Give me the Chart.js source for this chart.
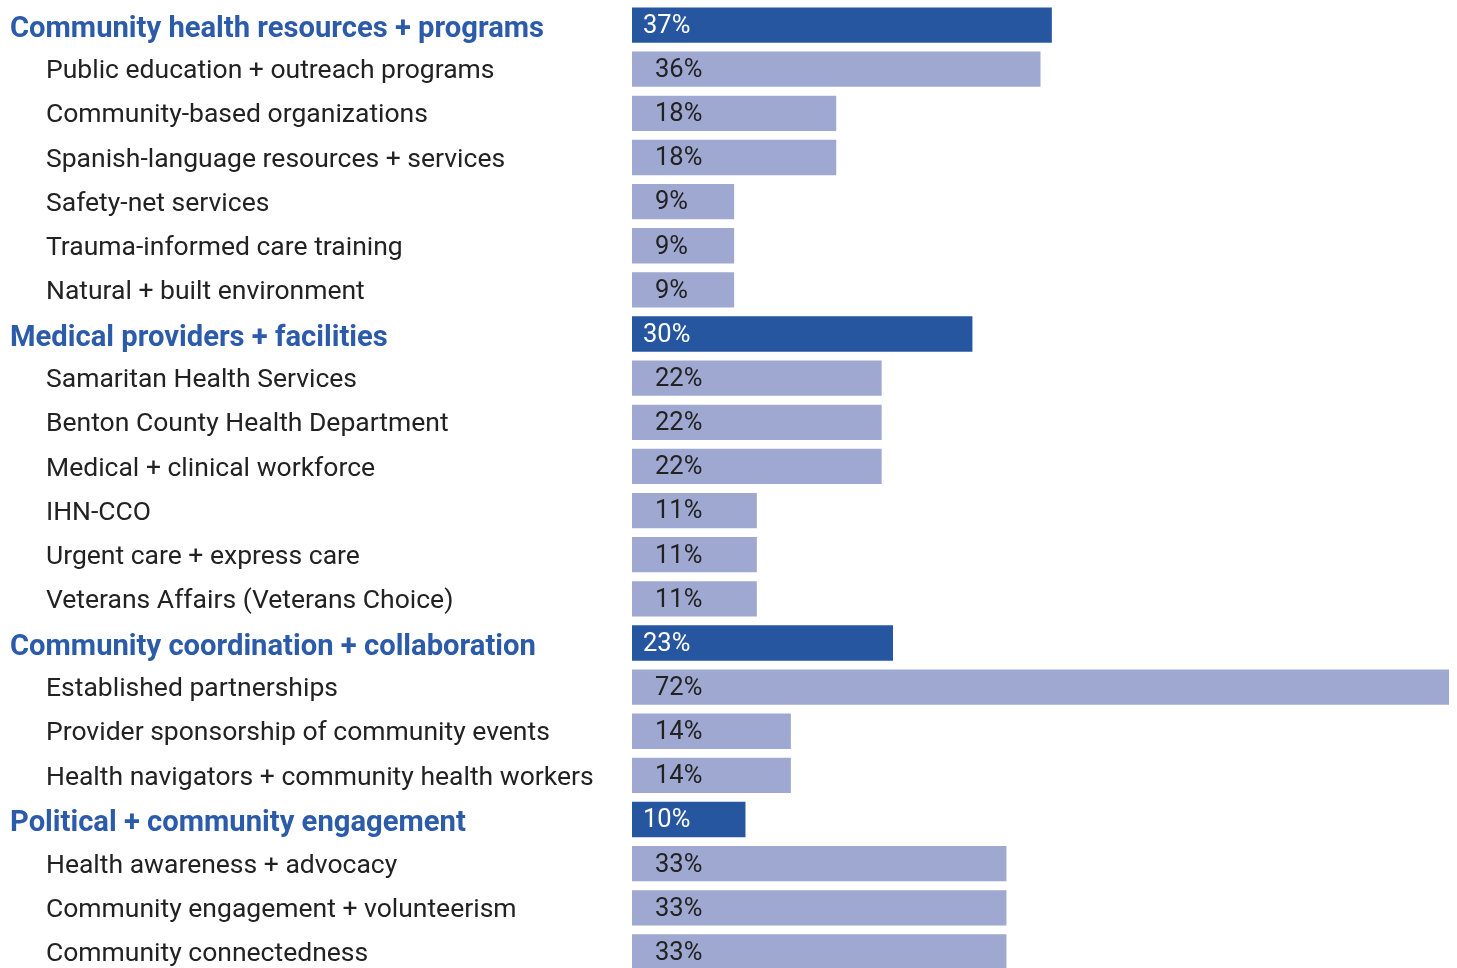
<!DOCTYPE html>
<html>
<head>
<meta charset="utf-8">
<script src="https://cdn.jsdelivr.net/npm/chart.js@4/dist/chart.umd.min.js"></script>
<style>
  html, body { margin: 0; padding: 0; background: #ffffff; overflow: hidden; }
  #wrap { position: relative; width: 1457px; height: 976px; }
</style>
</head>
<body>
<div id="wrap"><canvas id="chart"></canvas></div>
<script>
// Row labels, top to bottom
const categories = [
  'Community health resources + programs',
  'Public education + outreach programs',
  'Community-based organizations',
  'Spanish-language resources + services',
  'Safety-net services',
  'Trauma-informed care training',
  'Natural + built environment',
  'Medical providers + facilities',
  'Samaritan Health Services',
  'Benton County Health Department',
  'Medical + clinical workforce',
  'IHN-CCO',
  'Urgent care + express care',
  'Veterans Affairs (Veterans Choice)',
  'Community coordination + collaboration',
  'Established partnerships',
  'Provider sponsorship of community events',
  'Health navigators + community health workers',
  'Political + community engagement',
  'Health awareness + advocacy',
  'Community engagement + volunteerism',
  'Community connectedness'
];

// Share of responses (%) per row
const percentages = [37, 36, 18, 18, 9, 9, 9, 30, 22, 22, 22, 11, 11, 11, 23, 72, 14, 14, 10, 33, 33, 33];

// 1 = theme heading, 0 = sub-topic within the theme above it
const isTheme = [1, 0, 0, 0, 0, 0, 0, 1, 0, 0, 0, 0, 0, 0, 1, 0, 0, 0, 1, 0, 0, 0];

const THEME_BAR = '#2656a0';
const TOPIC_BAR = '#9ea8d1';
const THEME_TEXT = '#2b5ba9';
const TOPIC_TEXT = '#222222';
const FONT = 'Roboto, "Noto Sans", sans-serif';

// Row labels on the left and value labels inside the bars
const labelPlugin = {
  id: 'rowLabels',
  afterDatasetsDraw(chart) {
    const ctx = chart.ctx;
    const yScale = chart.scales.y;
    const xScale = chart.scales.x;
    ctx.save();
    ctx.textBaseline = 'middle';
    ctx.textAlign = 'left';
    categories.forEach((name, i) => {
      const y = yScale.getPixelForValue(i);
      const theme = isTheme[i] === 1;
      ctx.font = theme ? `bold 29.2px ${FONT}` : `26.5px ${FONT}`;
      ctx.fillStyle = theme ? THEME_TEXT : TOPIC_TEXT;
      ctx.fillText(name, theme ? 10 : 46, y + (theme ? 4.5 : 2.5));

      ctx.font = `25.5px ${FONT}`;
      ctx.fillStyle = theme ? '#ffffff' : TOPIC_TEXT;
      const x0 = xScale.getPixelForValue(0);
      ctx.fillText(percentages[i] + '%', x0 + (theme ? 11 : 23), y + 1.5);
    });
    ctx.restore();
  }
};

new Chart(document.getElementById('chart'), {
  type: 'bar',
  data: {
    labels: categories,
    datasets: [{
      data: percentages,
      backgroundColor: isTheme.map(t => t ? THEME_BAR : TOPIC_BAR),
      borderWidth: 0,
      categoryPercentage: 1,
      barPercentage: 0.8
    }]
  },
  options: {
    indexAxis: 'y',
    responsive: true,
    maintainAspectRatio: false,
    animation: false,
    layout: { padding: { left: 632, right: 8, top: 3, bottom: 2 } },
    plugins: { legend: { display: false }, tooltip: { enabled: false } },
    scales: {
      x: { display: false, min: 0, max: 72, grid: { display: false } },
      y: { display: false, grid: { display: false } }
    }
  },
  plugins: [labelPlugin]
});
</script>
</body>
</html>
